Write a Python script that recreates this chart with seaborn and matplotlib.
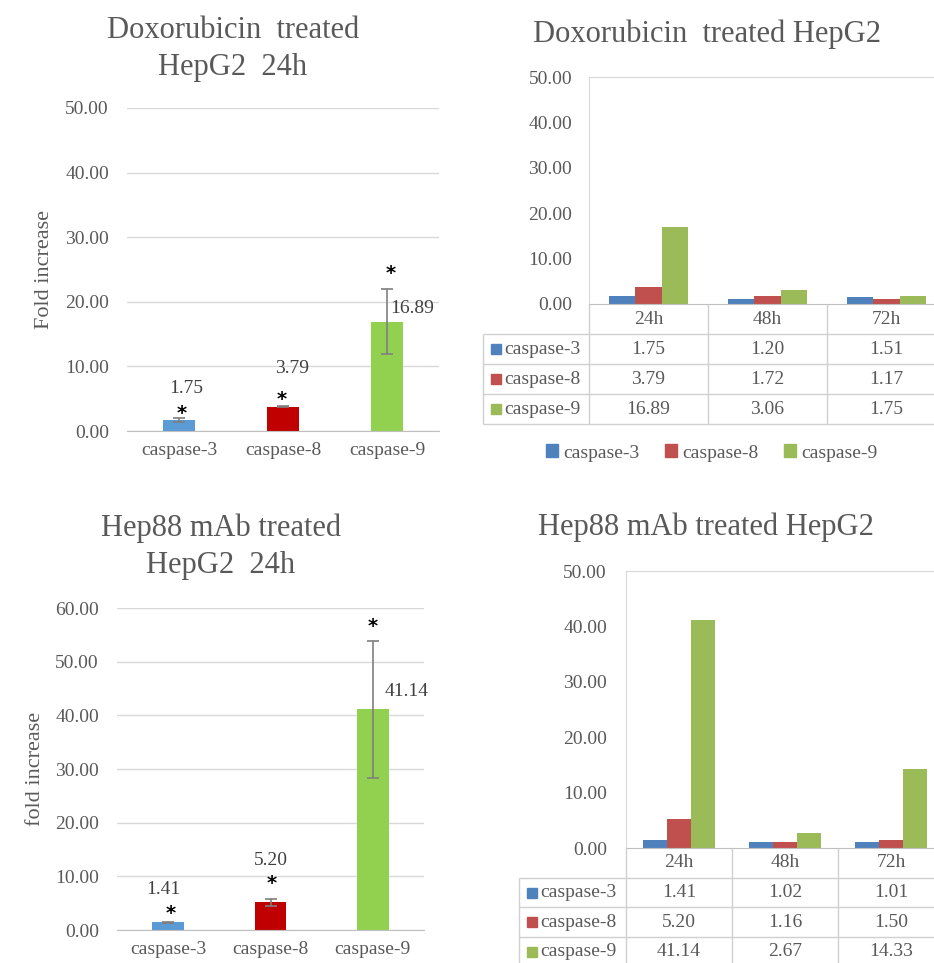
import numpy as np
import pandas as pd
import matplotlib
matplotlib.use('Agg')
import matplotlib.pyplot as plt
from matplotlib.patches import Patch
import seaborn as sns

# 24h panels (mean fold increase and error)
caspases = ['caspase-3', 'caspase-8', 'caspase-9']
dox24_fold = [1.75, 3.79, 16.89]
dox24_err = [0.30, 0.15, 5.03]
hep88_24_fold = [1.41, 5.20, 41.14]
hep88_24_err = [0.10, 0.65, 12.80]

# time course panels
times = ['24h', '48h', '72h']
dox_casp3 = [1.75, 1.20, 1.51]
dox_casp8 = [3.79, 1.72, 1.17]
dox_casp9 = [16.89, 3.06, 1.75]
hep88_casp3 = [1.41, 1.02, 1.01]
hep88_casp8 = [5.20, 1.16, 1.50]
hep88_casp9 = [41.14, 2.67, 14.33]

W, H = 934, 963
TXT = '#595959'
GRID = '#D9D9D9'
single_colors = ['#5B9BD5', '#C00000', '#92D050']
group_colors = ['#4F81BD', '#C0504D', '#9BBB59']

sns.set_style('white')
plt.rcParams['font.family'] = ['Liberation Serif', 'DejaVu Serif']


def px_rect(x0, y0, x1, y1):
	# pixel box (top-left origin) -> figure fraction rect
	return [x0 / W, 1 - y1 / H, (x1 - x0) / W, (y1 - y0) / H]


def add_title(fig, lines, x, ys):
	for txt, y in zip(lines, ys):
		fig.text(x / W, 1 - y / H, txt, ha='center', va='baseline', fontsize=22, color=TXT)


def single_panel(fig, rect, vals, errs, ymax, ylabel, lab_off, star_off):
	ax = fig.add_axes(px_rect(*rect))
	sns.barplot(x=caspases, y=vals, hue=caspases, palette=single_colors, width=0.31,
				saturation=1, errorbar=None, legend=False, linewidth=0, ax=ax)
	ax.errorbar(range(len(vals)), vals, yerr=errs, fmt='none', ecolor='#7F7F7F',
				elinewidth=1.2, capsize=4, capthick=1.2, zorder=5)
	ax.set_xlim(-0.5, 2.5)
	ax.set_ylim(0, ymax)
	ax.set_yticks(np.arange(0, ymax + 1, 10))
	ax.yaxis.set_major_formatter(lambda v, p: f'{v:.2f}')
	ax.grid(axis='y', color=GRID, lw=1)
	ax.set_axisbelow(True)
	for s in ['top', 'right', 'left']:
		ax.spines[s].set_visible(False)
	ax.spines['bottom'].set_color('#BFBFBF')
	ax.tick_params(length=0, colors=TXT, labelsize=14)
	ax.tick_params(axis='y', pad=13)
	ax.tick_params(axis='x', pad=8)
	ax.set_xlabel('')
	ax.set_ylabel(ylabel, fontsize=16, color=TXT, va='center')
	ax.yaxis.set_label_coords(-0.266, 0.5)
	for i, v in enumerate(vals):
		ax.annotate(f'{v:.2f}', (i, v), xytext=lab_off[i], textcoords='offset pixels',
					ha='center', va='center', fontsize=14, color='#404040')
		# asterisk glyph sits high in its box, so the offset is a bit lower
		ax.annotate('*', (i, v + errs[i]), xytext=star_off[i], textcoords='offset pixels',
					ha='center', va='center', fontsize=14, color='black', family='DejaVu Sans',
					fontweight='bold')
	return ax


def group_panel(fig, rect, label_left, row_h, series, tick_pad):
	x0, y0, x1, y1 = rect
	ax = fig.add_axes(px_rect(*rect))
	df = pd.DataFrame({
		'time': times * len(series),
		'caspase': np.repeat(caspases, len(times)),
		'fold': np.concatenate(series),
	})
	sns.barplot(data=df, x='time', y='fold', hue='caspase', palette=group_colors, width=0.67,
				saturation=1, errorbar=None, legend=False, linewidth=0, ax=ax)
	ax.set_xlim(-0.5, 2.5)
	ax.set_ylim(0, 50)
	ax.set_yticks(np.arange(0, 51, 10))
	ax.yaxis.set_major_formatter(lambda v, p: f'{v:.2f}')
	ax.set_xticks([])
	ax.set_xlabel('')
	ax.set_ylabel('')
	for s in ['top', 'right', 'left']:
		ax.spines[s].set_color(GRID)
	ax.spines['bottom'].set_color('#BFBFBF')
	ax.tick_params(length=0, colors=TXT, labelsize=14, pad=tick_pad * 0.72)

	# data table under the plot
	pu = (x1 - x0) / 3.0
	lw = (x0 - label_left) / pu
	nrow = len(series) + 1
	tb = fig.add_axes(px_rect(label_left, y1, x1, y1 + nrow * row_h))
	tb.set_xlim(-0.5 - lw, 2.5)
	tb.set_ylim(nrow, 0)
	tb.axis('off')
	lc = '#D0D0D0'
	tb.vlines([-0.5 - lw], 1, nrow, color=lc, lw=1, clip_on=False)
	tb.vlines(np.arange(-0.5, 3, 1), 0, nrow, color=lc, lw=1, clip_on=False)
	tb.hlines(np.arange(1, nrow + 1), -0.5 - lw, 2.5, color=lc, lw=1, clip_on=False)
	for j, t in enumerate(times):
		tb.text(j, 0.5, t, ha='center', va='center', fontsize=14, color=TXT)
	for i, (name, vals) in enumerate(zip(caspases, series)):
		yy = i + 1.5
		tb.plot(-0.5 - lw + 13 / pu, yy, 's', ms=7.5, color=group_colors[i], clip_on=False)
		tb.text(-0.5 - lw + 21 / pu, yy, name, ha='left', va='center', fontsize=14, color=TXT)
		for j, v in enumerate(vals):
			tb.text(j, yy, f'{v:.2f}', ha='center', va='center', fontsize=14, color=TXT)
	return ax


fig = plt.figure(figsize=(W / 100, H / 100), dpi=100)
fig.patch.set_facecolor('white')

# top left
add_title(fig, ['Doxorubicin  treated', 'HepG2  24h'], 233, [38, 75])
single_panel(fig, (127, 108, 439, 431), dox24_fold, dox24_err, 50, 'Fold increase',
			 lab_off=[(7, 31), (9, 38), (25, 13)], star_off=[(3, 4), (-1, 6), (4, 16)])

# top right
add_title(fig, ['Doxorubicin  treated HepG2'], 707, [42])
group_panel(fig, (589, 77, 946, 304), 483, 30, [dox_casp3, dox_casp8, dox_casp9], 17)
fig.legend(handles=[Patch(color=c, label=n) for c, n in zip(group_colors, caspases)],
		   loc='center', bbox_to_anchor=(712 / W, 1 - 453 / H), ncol=3, frameon=False,
		   fontsize=14, handlelength=0.6, handleheight=0.6, handletextpad=0.3,
		   columnspacing=1.3, labelcolor=TXT)

# bottom left
add_title(fig, ['Hep88 mAb treated', 'HepG2  24h'], 221, [536, 573])
single_panel(fig, (117, 608, 424, 930), hep88_24_fold, hep88_24_err, 60, 'fold increase',
			 lab_off=[(-5, 33), (0, 42), (34, 18)], star_off=[(3, 8), (1, 15), (0, 14)])

# bottom right
add_title(fig, ['Hep88 mAb treated HepG2'], 706, [535])
group_panel(fig, (626, 571, 944, 848), 519, 29.7, [hep88_casp3, hep88_casp8, hep88_casp9], 19)

fig.savefig('out.png', dpi=100)
